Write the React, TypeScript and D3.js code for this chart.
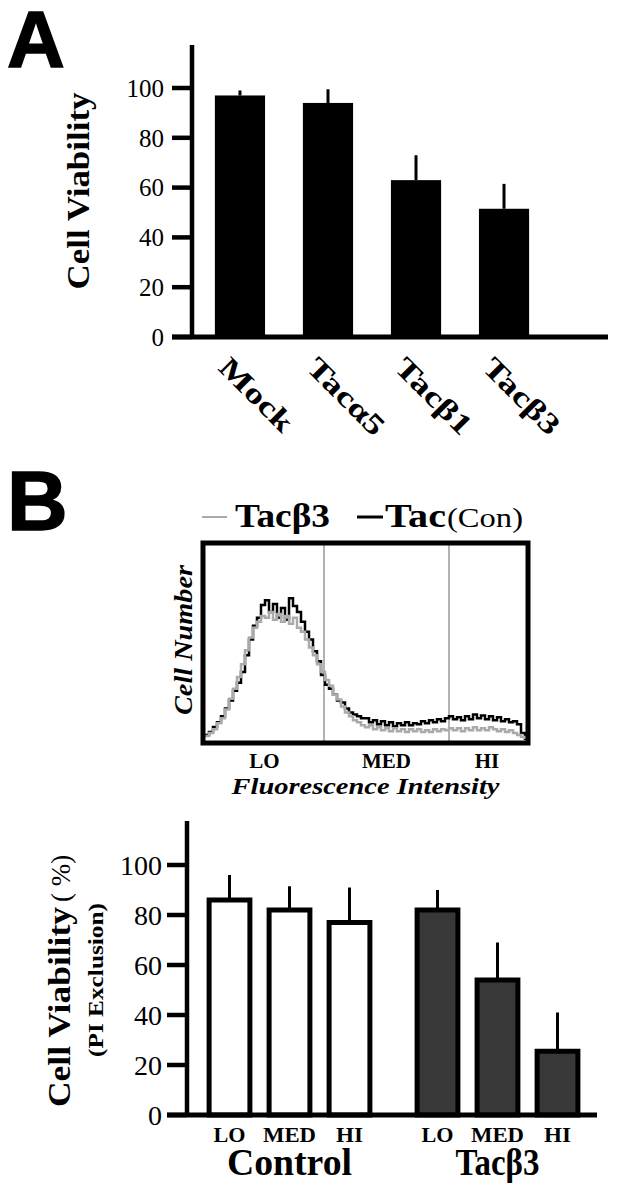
import * as d3 from 'd3';

// Panel A: cell viability per construct
const constructs = ['Mock', 'Tacα5', 'Tacβ1', 'Tacβ3'];
const constructMeans = [97, 94, 63, 51.5];
const constructErr = [2, 5.5, 10, 10];
const viabilityTicks = [0, 20, 40, 60, 80, 100];

// Panel B histogram: counts per fluorescence channel
const tacB3Counts = [
  2, 3.5, 5.5, 8.5, 11, 15.5, 21, 26, 32, 38.5, 45.5, 52, 57, 60, 63, 62, 65, 61, 64, 60,
  63, 59, 62, 57, 55, 51, 47, 43, 38.5, 34.5, 30.5, 27.5, 23, 20.5, 17, 14, 12, 10, 9, 7.5,
  6.5, 7.5, 5.5, 6.5, 5, 6, 4.5, 6, 4.5, 5.5, 4, 5.5, 4.5, 5.5, 4, 5, 4, 5.5, 4.5, 5.5,
  5, 6, 5, 6, 4.5, 6, 5, 6.5, 5, 6, 5, 6.5, 5.5, 4.5, 5.5, 4, 5, 3.5, 2.5, 1.5, 0.5,
];
const tacConCounts = [
  2.5, 4, 6.6, 9, 12, 16, 20, 25, 29, 34.5, 43, 51, 58, 62, 68.5, 71, 65, 69, 62, 67,
  61, 72, 68, 65, 60, 55, 51, 45, 40, 33, 28, 26, 23, 20, 19, 16, 14, 13, 12, 11,
  11, 9, 10, 8, 9.5, 7.5, 9, 7, 8.5, 7.5, 9, 7.5, 8.5, 8, 9.5, 8.5, 10, 9, 10.5, 9.5,
  11, 12, 10.5, 11.5, 10, 12, 10.5, 13, 11, 12.5, 10.5, 12, 10, 11.5, 9.5, 10.5, 9, 9.5, 8, 3.5, 0,
];
const gateEdges = [29.75, 61];
const gateNames = ['LO', 'MED', 'HI'];

// Panel B bars: viability by expression level
const groups = ['Control', 'Tacβ3'];
const levels = ['LO', 'MED', 'HI'];
const controlMeans = [86, 82, 77];
const controlErr = [10, 9.5, 14];
const tacB3Means = [82, 54, 25.5];
const tacB3Err = [8, 15, 15.5];

const serif = "'Liberation Serif', 'Times New Roman', Times, serif";
const sans = "'Liberation Sans', Arial, Helvetica, sans-serif";

export default function App() {
  // panel A scales
  const aY = d3.scaleLinear().domain([0, 100]).range([337, 88]);
  const aX = d3.scaleBand<string>().domain(constructs).range([192, 552]).paddingInner(0.43).paddingOuter(0.26);
  const aAxisX = 192;

  // histogram scales
  const hX = d3.scaleLinear().domain([0, 80]).range([205, 525]);
  const hY = d3.scaleLinear().domain([0, 100]).range([740, 543]);
  const histLine = d3.line<number>()
    .x((d, i) => hX(i))
    .y(d => hY(d))
    .curve(d3.curveStepAfter);
  const gateBounds = [0, ...gateEdges, 80];

  // panel B bar scales
  const bY = d3.scaleLinear().domain([0, 100]).range([1115, 865]);
  const bGroup = d3.scalePoint<string>().domain(groups).range([289.5, 497.5]);
  const bLevel = d3.scaleBand<string>().domain(levels).range([-90, 90]).paddingInner(0.32).paddingOuter(0.16);
  const bAxisX = 187;
  const barSets = [
    { group: 'Control', means: controlMeans, err: controlErr, fill: '#ffffff' },
    { group: 'Tacβ3', means: tacB3Means, err: tacB3Err, fill: '#383838' },
  ];
  const levelWidth: Record<string, number> = { LO: 32, MED: 53, HI: 27 };

  return (
    <svg width={634} height={1200} style={{ position: 'absolute', left: 0, top: 0, background: '#fff' }}>
      {/* Panel letters */}
      <text x={7} y={67} style={{ fontFamily: sans }} fontWeight={700} fontSize={80} stroke="#000" strokeWidth={1.5}>A</text>
      <text x={7} y={530} style={{ fontFamily: sans }} fontWeight={700} fontSize={84} stroke="#000" strokeWidth={1.5}>B</text>

      {/* Panel A */}
      <text transform="translate(89,191) rotate(-90)" textAnchor="middle" style={{ fontFamily: serif }}
        fontWeight={700} fontSize={31} textLength={197} lengthAdjust="spacingAndGlyphs">Cell Viability</text>
      {viabilityTicks.map(t => (
        <g key={t}>
          <line x1={aAxisX - 20} x2={aAxisX} y1={aY(t)} y2={aY(t)} stroke="#000" strokeWidth={4.5} />
          <text x={aAxisX - 28} y={aY(t)} dy="0.35em" textAnchor="end" style={{ fontFamily: serif }} fontSize={25}>{t}</text>
        </g>
      ))}
      {constructs.map((c, i) => {
        const cx = (aX(c) ?? 0) + aX.bandwidth() / 2;
        return (
          <g key={c}>
            <line x1={cx} x2={cx} y1={aY(constructMeans[i])} y2={aY(constructMeans[i] + constructErr[i])}
              stroke="#000" strokeWidth={3} />
            <rect x={aX(c)} y={aY(constructMeans[i])} width={aX.bandwidth()}
              height={aY(0) - aY(constructMeans[i])} fill="#000" />
            <text transform={`translate(${cx - 23},369) rotate(45) scale(1.3,1)`} style={{ fontFamily: serif }}
              fontWeight={700} fontSize={29}>{c}</text>
          </g>
        );
      })}
      <line x1={aAxisX} x2={aAxisX} y1={45} y2={aY(0) + 2} stroke="#000" strokeWidth={4.5} />
      <line x1={aAxisX - 20} x2={608} y1={aY(0)} y2={aY(0)} stroke="#000" strokeWidth={5} />

      {/* Histogram legend */}
      <line x1={202} x2={227} y1={517} y2={517} stroke="#aaa" strokeWidth={2} />
      <text x={235} y={527} style={{ fontFamily: serif }} fontWeight={700} fontSize={34}
        textLength={95} lengthAdjust="spacingAndGlyphs">Tacβ3</text>
      <line x1={357} x2={383} y1={517} y2={517} stroke="#000" strokeWidth={3} />
      <text x={385} y={527} style={{ fontFamily: serif }} fontWeight={700} fontSize={34}
        textLength={61} lengthAdjust="spacingAndGlyphs">Tac</text>
      <text x={447} y={527} style={{ fontFamily: serif }} fontSize={27} textLength={76} lengthAdjust="spacingAndGlyphs">(Con)</text>

      <text transform="translate(192,640) rotate(-90)" textAnchor="middle" style={{ fontFamily: serif }}
        fontWeight={700} fontStyle="italic" fontSize={26} textLength={150} lengthAdjust="spacingAndGlyphs">Cell Number</text>

      {gateEdges.map(g => (
        <line key={g} x1={hX(g)} x2={hX(g)} y1={545} y2={741} stroke="#999" strokeWidth={1.5} />
      ))}
      <path d={histLine(tacConCounts) ?? ''} fill="none" stroke="#000" strokeWidth={2.5} />
      <path d={histLine(tacB3Counts) ?? ''} fill="none" stroke="#aaa" strokeWidth={2.5} />
      <rect x={203} y={543} width={325} height={200} fill="none" stroke="#000" strokeWidth={5} />

      {gateNames.map((n, i) => (
        <text key={n} x={hX((gateBounds[i] + gateBounds[i + 1]) / 2)} y={768} textAnchor="middle"
          style={{ fontFamily: serif }} fontWeight={700} fontSize={21}>{n}</text>
      ))}
      <text x={365.5} y={794} textAnchor="middle" style={{ fontFamily: serif }} fontWeight={700} fontStyle="italic"
        fontSize={23} textLength={268} lengthAdjust="spacingAndGlyphs">Fluorescence Intensity</text>

      {/* Panel B bars */}
      <text transform="translate(70,1107) rotate(-90)" style={{ fontFamily: serif }} fontWeight={700} fontSize={31}
        textLength={200} lengthAdjust="spacingAndGlyphs">Cell Viability</text>
      <text transform="translate(70,902) rotate(-90)" style={{ fontFamily: serif }} fontSize={27}>( %)</text>
      <text transform="translate(103,980) rotate(-90)" textAnchor="middle" style={{ fontFamily: serif }} fontWeight={700}
        fontSize={21} textLength={154} lengthAdjust="spacingAndGlyphs">(PI Exclusion)</text>

      {viabilityTicks.map(t => (
        <g key={t}>
          <line x1={bAxisX - 20} x2={bAxisX} y1={bY(t)} y2={bY(t)} stroke="#000" strokeWidth={4.5} />
          <text x={bAxisX - 25} y={bY(t)} dy="0.35em" textAnchor="end" style={{ fontFamily: serif }} fontSize={28}>{t}</text>
        </g>
      ))}
      {barSets.map(s => (
        <g key={s.group}>
          {levels.map((l, i) => {
            const x0 = (bGroup(s.group) ?? 0) + (bLevel(l) ?? 0);
            const cx = x0 + bLevel.bandwidth() / 2;
            return (
              <g key={l}>
                <line x1={cx} x2={cx} y1={bY(s.means[i])} y2={bY(s.means[i] + s.err[i])} stroke="#000" strokeWidth={3} />
                <rect x={x0} y={bY(s.means[i])} width={bLevel.bandwidth()} height={bY(0) - bY(s.means[i])}
                  fill={s.fill} stroke="#000" strokeWidth={5} />
                <text x={cx} y={1142} textAnchor="middle" style={{ fontFamily: serif }} fontWeight={700} fontSize={20}
                  textLength={levelWidth[l]} lengthAdjust="spacingAndGlyphs">{l}</text>
              </g>
            );
          })}
          <text x={bGroup(s.group)} y={1175} textAnchor="middle" style={{ fontFamily: serif }} fontWeight={700}
            fontSize={37} textLength={s.group === 'Control' ? 125 : 84} lengthAdjust="spacingAndGlyphs">{s.group}</text>
        </g>
      ))}
      <line x1={bAxisX} x2={bAxisX} y1={821} y2={bY(0) + 2} stroke="#000" strokeWidth={4.5} />
      <line x1={bAxisX - 20} x2={597} y1={bY(0)} y2={bY(0)} stroke="#000" strokeWidth={5} />
    </svg>
  );
}
